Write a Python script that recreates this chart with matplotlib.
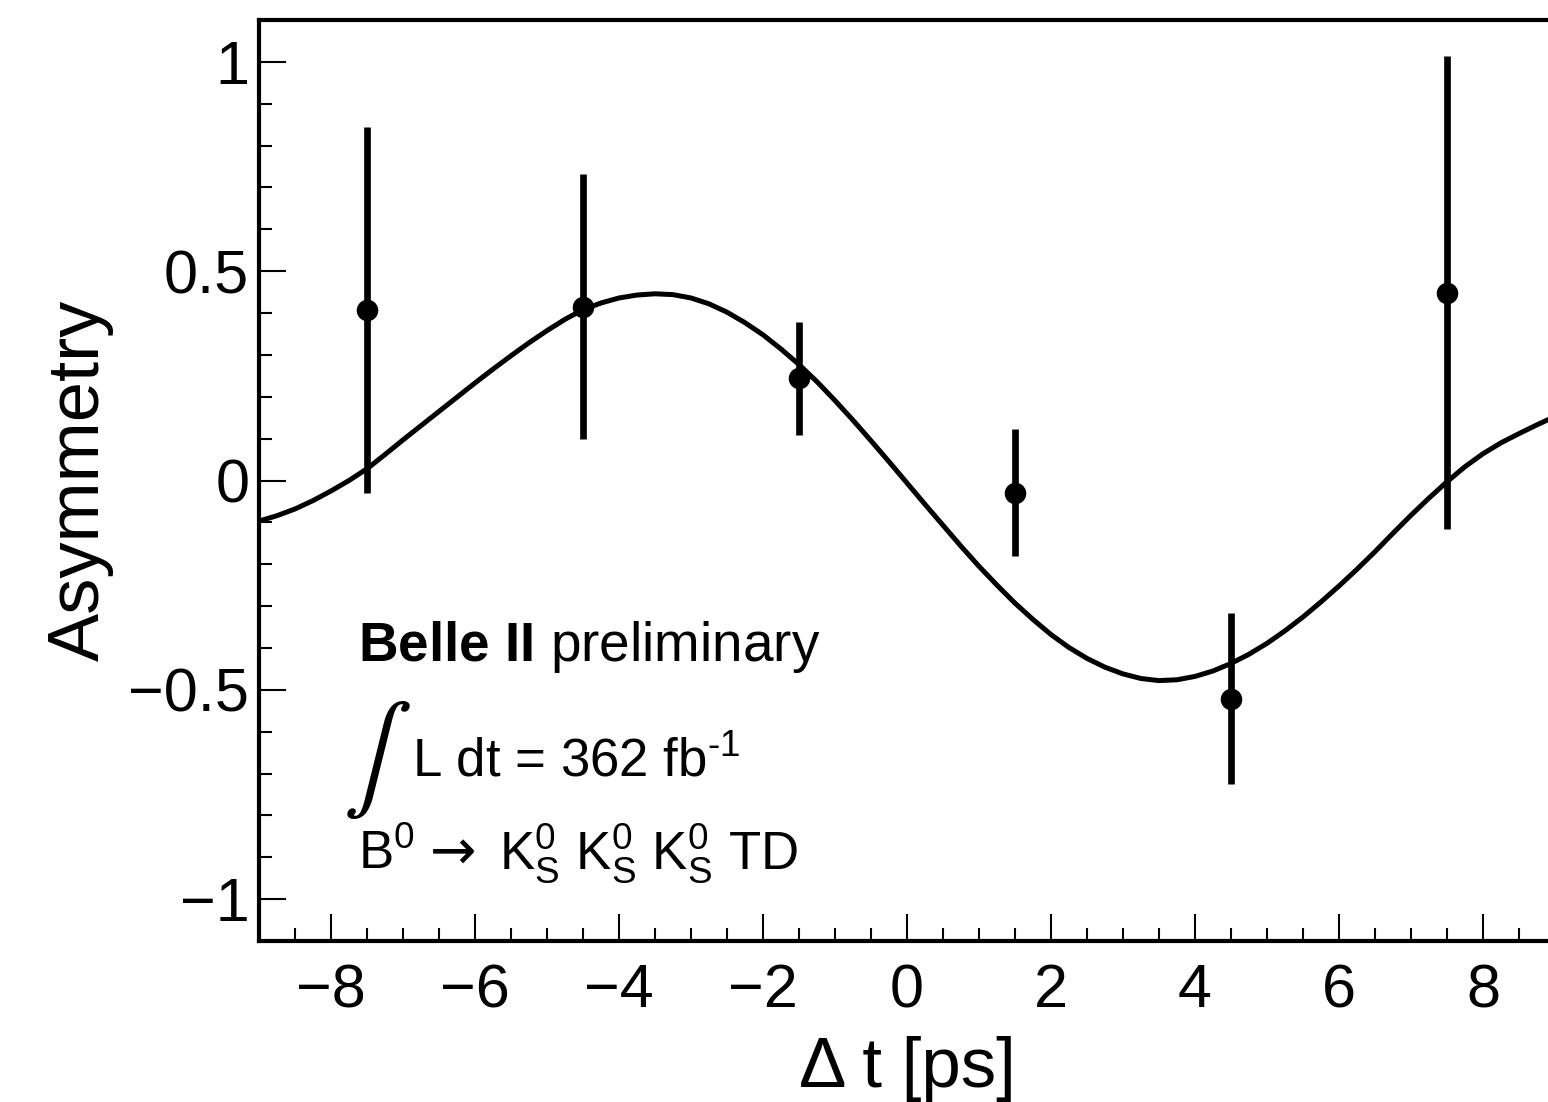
import numpy as np
import matplotlib
matplotlib.use('Agg')
import matplotlib.pyplot as plt
from matplotlib.ticker import MultipleLocator, FuncFormatter

plt.rcParams['font.family'] = ['Liberation Sans', 'DejaVu Sans']
plt.rcParams['mathtext.fontset'] = 'custom'
plt.rcParams['mathtext.rm'] = 'Liberation Sans'
plt.rcParams['mathtext.it'] = 'Liberation Sans:italic'
plt.rcParams['mathtext.bf'] = 'Liberation Sans:bold'

# binned asymmetry (data points)
dt_bins = [-7.5, -4.5, -1.5, 1.5, 4.5, 7.5]
asym = [0.407, 0.415, 0.244, -0.029, -0.521, 0.449]
asym_err = [0.437, 0.316, 0.135, 0.151, 0.204, 0.565]

curve_dt = np.arange(-9.0, 9.001, 0.25)
curve_asym = [-0.097, -0.084, -0.068, -0.048, -0.025, 0.000, 0.028, 0.062,
              0.097, 0.131, 0.165, 0.199, 0.233, 0.266, 0.298, 0.329,
              0.358, 0.385, 0.408, 0.424, 0.436, 0.443, 0.446, 0.444,
              0.436, 0.422, 0.402, 0.377, 0.348, 0.314, 0.277, 0.236,
              0.191, 0.144, 0.095, 0.045, -0.006, -0.057, -0.107, -0.157,
              -0.205, -0.250, -0.293, -0.332, -0.368, -0.399, -0.425, -0.446,
              -0.462, -0.473, -0.478, -0.476, -0.468, -0.455, -0.437, -0.415,
              -0.389, -0.359, -0.326, -0.290, -0.252, -0.212, -0.170, -0.126,
              -0.083, -0.042, -0.003, 0.033, 0.064, 0.090, 0.112, 0.133,
              0.153]

fig = plt.figure(figsize=(15.48, 11.02), dpi=100)
ax = fig.add_axes([259/1548, 1 - 941/1102, 1296/1548, 921/1102])

ax.plot(curve_dt, curve_asym, color='black', lw=3.6)
ax.errorbar(dt_bins, asym, yerr=asym_err, fmt='o', color='black',
            ms=14.5, elinewidth=4.8, capsize=0)

ax.set_xlim(-9, 9)
ax.set_ylim(-1.1, 1.1)

# ROOT-like axes
for side in ['left', 'bottom', 'top', 'right']:
  ax.spines[side].set_linewidth(3)
ax.xaxis.set_major_locator(MultipleLocator(2))
ax.xaxis.set_minor_locator(MultipleLocator(0.5))
ax.yaxis.set_major_locator(MultipleLocator(0.5))
ax.yaxis.set_minor_locator(MultipleLocator(0.1))
fmt = FuncFormatter(lambda v, pos: ('%g' % v).replace('-', '\u2212'))
ax.xaxis.set_major_formatter(fmt)
ax.yaxis.set_major_formatter(fmt)
ax.tick_params(which='both', direction='in', top=False, right=False, width=1.5)
ax.tick_params(which='major', length=19.5, labelsize=44)
ax.tick_params(axis='x', which='major', pad=16)
ax.tick_params(axis='y', which='major', pad=7)
ax.tick_params(which='minor', length=9.5)

ax.set_xlabel('\u0394 t [ps]', fontsize=51)
ax.set_ylabel('Asymmetry', fontsize=52)
ax.xaxis.set_label_coords(0.5, -0.103)
ax.yaxis.set_label_coords(-0.112, 0.5)

# labels
ax.text(-7.625, -0.432, r'$\mathbf{Belle\ II}$ preliminary', fontsize=39.5, va='baseline')
ax.text(-7.83, -0.668, r'$\int$', fontsize=74, math_fontfamily='stix', va='center', ha='left')
ax.text(-6.87, -0.706, r'L dt = 362 fb$^{\text{-1}}$', fontsize=38, va='baseline')
# decay: B0 -> KS KS KS, arrow drawn in DejaVu Sans for a longer glyph
ax.text(-7.625, -0.928, r'B$^{0}$', fontsize=38, va='baseline')
ax.text(-6.62, -0.928, '\u2192', fontsize=40, family='DejaVu Sans', va='baseline')
ax.text(-5.66, -0.928,
        r'K$^{0}_{\mathrm{S}}$ K$^{0}_{\mathrm{S}}$ K$^{0}_{\mathrm{S}}$ TD',
        fontsize=38, va='baseline')

plt.savefig('out.png', dpi=100)
plt.close()
